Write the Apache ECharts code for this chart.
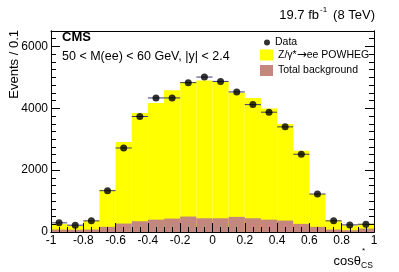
<!DOCTYPE html>
<html>
<head>
<meta charset="utf-8">
<script src="https://cdn.jsdelivr.net/npm/echarts@6/dist/echarts.min.js"></script>
<style>html,body{margin:0;padding:0;background:#fff}#c{width:399px;height:272px}</style>
</head>
<body>
<div id="c"></div>
<script>
// bin edges of cos(theta*_CS)
const binEdges = [-1, -0.9, -0.8, -0.7, -0.6, -0.5, -0.4, -0.3, -0.2, -0.1, 0, 0.1, 0.2, 0.3, 0.4, 0.5, 0.6, 0.7, 0.8, 0.9, 1];
// Data (events / 0.1)
const dataValues = [296, 220, 360, 1335, 2717, 3735, 4335, 4335, 4830, 5010, 4870, 4530, 4120, 3875, 3400, 2515, 1228, 360, 230, 250];
// Z/gamma* -> ee POWHEG (stacked total, top of yellow)
const mcTotal = [255, 195, 370, 1370, 2910, 3850, 4175, 4580, 4850, 4900, 4870, 4505, 4335, 3990, 3490, 2630, 1228, 380, 210, 265];
// Total background
const bkgValues = [80, 75, 80, 167, 273, 347, 400, 434, 500, 444, 444, 489, 444, 400, 370, 263, 167, 80, 58, 112];
// tick labels
const xTicks = [-1, -0.8, -0.6, -0.4, -0.2, 0, 0.2, 0.4, 0.6, 0.8, 1];
const yTicks = [0, 2000, 4000, 6000];

const FONT = '"Liberation Sans", Arial, Helvetica, sans-serif';
const YELLOW = '#ffff00';
const BROWN = '#c3877d';

const histData = (vals) => vals.map((v, i) => [binEdges[i], binEdges[i + 1], v]);
const rectItem = (color) => function (params, api) {
  const p0 = api.coord([api.value(0), api.value(2)]);
  const p1 = api.coord([api.value(1), 0]);
  return { type: 'rect', shape: { x: p0[0], y: p0[1], width: p1[0] - p0[0], height: p1[1] - p0[1] }, style: { fill: color } };
};

const chart = echarts.init(document.getElementById('c'), null, { renderer: 'canvas' });
const axLine = { show: true, onZero: false, lineStyle: { color: '#000', width: 1 } };
const fmtX = v => { const r = Math.round(v * 10) / 10; return String(r); };
const fmtY = v => String(Math.round(v));

chart.setOption({
  animation: false,
  backgroundColor: '#fff',
  grid: { left: 51, right: 25, top: 31, bottom: 40, containLabel: false },
  xAxis: [
    { type: 'value', min: -1, max: 1, interval: 0.2, position: 'bottom', z: 10,
      axisLine: axLine, splitLine: { show: false },
      axisTick: { show: true, inside: true, length: 9, customValues: xTicks, lineStyle: { color: '#000' } },
      axisLabel: { show: true, customValues: xTicks, margin: 3, fontSize: 12, fontFamily: FONT, color: '#000', formatter: fmtX } },
    { type: 'value', min: -1, max: 1, interval: 0.05, position: 'bottom', z: 10,
      axisLine: axLine, splitLine: { show: false },
      axisTick: { show: true, inside: true, length: 5, lineStyle: { color: '#000' } },
      axisLabel: { show: false } },
    { type: 'value', min: -1, max: 1, interval: 0.2, position: 'top', z: 10,
      axisLine: axLine, splitLine: { show: false }, axisTick: { show: false }, axisLabel: { show: false } }
  ],
  yAxis: [
    { type: 'value', min: 0, max: 6500, interval: 2000, position: 'left', z: 10,
      axisLine: axLine, splitLine: { show: false },
      axisTick: { show: true, inside: true, length: 9, customValues: yTicks, lineStyle: { color: '#000' } },
      axisLabel: { show: true, customValues: yTicks, margin: 3, fontSize: 12, fontFamily: FONT, color: '#000', formatter: fmtY } },
    { type: 'value', min: 0, max: 6500, interval: 250, position: 'left', z: 10,
      axisLine: axLine, splitLine: { show: false },
      axisTick: { show: true, inside: true, length: 5, lineStyle: { color: '#000' } }, axisLabel: { show: false } },
    { type: 'value', min: 0, max: 6500, interval: 2000, position: 'right', z: 10,
      axisLine: axLine, splitLine: { show: false },
      axisTick: { show: true, inside: true, length: 9, customValues: yTicks, lineStyle: { color: '#000' } }, axisLabel: { show: false } },
    { type: 'value', min: 0, max: 6500, interval: 250, position: 'right', z: 10,
      axisLine: axLine, splitLine: { show: false },
      axisTick: { show: true, inside: true, length: 5, lineStyle: { color: '#000' } }, axisLabel: { show: false } }
  ],
  legend: [
    { data: [{ name: 'Data', icon: 'circle' }], left: 264, top: 37, padding: 0, itemWidth: 6, itemHeight: 6,
      textStyle: { fontSize: 10.5, fontFamily: FONT, color: '#000' }, selectedMode: false },
    { data: [{ name: 'Z/γ*→ee POWHEG', icon: 'rect' }, { name: 'Total background', icon: 'rect' }],
      orient: 'vertical', left: 260, top: 49, padding: 0, itemGap: 4, itemWidth: 13, itemHeight: 11,
      formatter: function (name) {
        if (name.indexOf('→') >= 0) { const p = name.split('→'); return '{t|' + p[0] + '}{a|→}{t|' + p[1] + '}'; }
        return '{t|' + name + '}';
      },
      textStyle: { fontSize: 10.5, fontFamily: FONT, color: '#000',
        rich: { t: { fontSize: 10.5, fontFamily: FONT, color: '#000' }, a: { fontSize: 12, fontFamily: '"DejaVu Sans", sans-serif', color: '#000' } } },
      selectedMode: false }
  ],
  series: [
    { name: 'Z/γ*→ee POWHEG', type: 'custom', xAxisIndex: 0, yAxisIndex: 0, z: 2,
      itemStyle: { color: YELLOW }, renderItem: rectItem(YELLOW), data: histData(mcTotal) },
    { name: 'Total background', type: 'custom', xAxisIndex: 0, yAxisIndex: 0, z: 3,
      itemStyle: { color: BROWN }, renderItem: rectItem(BROWN), data: histData(bkgValues) },
    { name: 'errbars', type: 'custom', xAxisIndex: 0, yAxisIndex: 0, z: 4,
      renderItem: function (params, api) {
        const a = api.coord([api.value(0), api.value(2)]);
        const b = api.coord([api.value(1), api.value(2)]);
        return { type: 'line', shape: { x1: a[0], y1: a[1], x2: b[0], y2: b[1] }, style: { stroke: '#3a3a6e', lineWidth: 1 } };
      },
      data: histData(dataValues) },
    { name: 'Data', type: 'scatter', xAxisIndex: 0, yAxisIndex: 0, z: 5, symbol: 'circle', symbolSize: 7,
      itemStyle: { color: '#000' },
      data: dataValues.map((v, i) => [(binEdges[i] + binEdges[i + 1]) / 2, v]) }
  ],
  graphic: [
    { type: 'text', x: 62, y: 37, style: { text: 'CMS', font: 'bold 13px ' + FONT, fill: '#000', verticalAlign: 'middle' } },
    { type: 'text', x: 62, y: 57, style: { text: '50 < M(ee) < 60 GeV, |y| < 2.4', font: '12.5px ' + FONT, fill: '#000', verticalAlign: 'middle' } },
    { type: 'text', x: 319, y: 15, style: { text: '19.7 fb', font: '13px ' + FONT, fill: '#000', align: 'right', verticalAlign: 'middle' } },
    { type: 'text', x: 320, y: 10, style: { text: '-1', font: '8px ' + FONT, fill: '#000', verticalAlign: 'middle' } },
    { type: 'text', x: 375, y: 15, style: { text: '(8 TeV)', font: '13px ' + FONT, fill: '#000', align: 'right', verticalAlign: 'middle' } },
    { type: 'text', x: 14, y: 30, rotation: Math.PI / 2,
      style: { text: 'Events / 0.1', font: '13px ' + FONT, fill: '#000', align: 'right', verticalAlign: 'middle' } },
    { type: 'text', x: 361, y: 261, style: { text: 'cosθ', font: '13px ' + FONT, fill: '#000', align: 'right', verticalAlign: 'middle' } },
    { type: 'text', x: 362, y: 251, style: { text: '*', font: '8px ' + FONT, fill: '#000', verticalAlign: 'middle' } },
    { type: 'text', x: 361, y: 266, style: { text: 'CS', font: '8.5px ' + FONT, fill: '#000', verticalAlign: 'middle' } }
  ]
});
</script>
</body>
</html>
